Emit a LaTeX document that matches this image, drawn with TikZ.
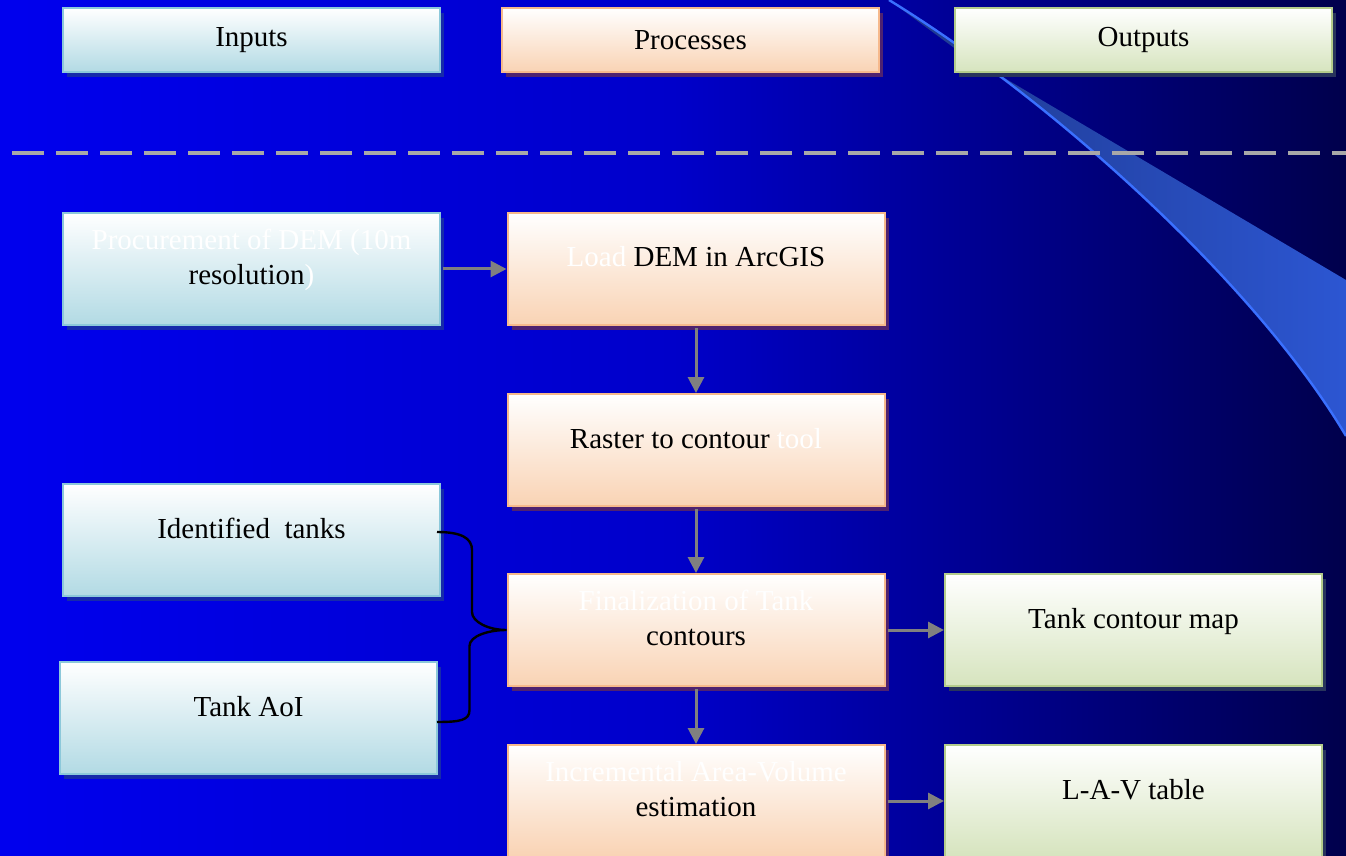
\documentclass[tikz,border=0pt]{standalone}
\usepackage{fontspec}
\setmainfont{Liberation Serif}
\usepackage{tikz}
\usetikzlibrary{arrows.meta,positioning,calc,shadows}

\definecolor{bgleft}{RGB}{0,0,238}
\definecolor{bgmid}{RGB}{0,0,202}
\definecolor{bgright}{RGB}{0,0,76}
\definecolor{inbot}{RGB}{178,218,228}
\definecolor{inedge}{RGB}{140,200,218}
\definecolor{inshadow}{RGB}{22,42,170}
\definecolor{procbot}{RGB}{249,211,180}
\definecolor{procedge}{RGB}{246,185,140}
\definecolor{procshadow}{RGB}{78,34,112}
\definecolor{outbot}{RGB}{214,228,190}
\definecolor{outedge}{RGB}{180,204,140}
\definecolor{outshadow}{RGB}{40,52,92}
\definecolor{flowgray}{RGB}{128,128,128}
\definecolor{dashgray}{RGB}{168,168,168}
\definecolor{swooshdark}{RGB}{30,56,140}
\definecolor{swooshlight}{RGB}{44,86,210}
\definecolor{swooshline}{RGB}{58,112,255}

\newcommand{\lifted}[1]{\raisebox{4.5pt}[\height][\depth]{\begin{tabular}{@{}c@{}}#1\end{tabular}}}
\newcommand{\hid}[1]{\textcolor{white}{#1}}

\begin{document}
\begin{tikzpicture}[x=0.5pt,y=0.5pt,
  font=\fontsize{14.5}{17.5}\selectfont,
  panel/.style={draw,line width=1pt,minimum width=188.5pt,minimum height=56pt,inner sep=0pt,top color=white},
  headbox/.style={minimum height=32pt},
  inbox/.style={panel,draw=inedge,bottom color=inbot,
    drop shadow={shadow xshift=2pt,shadow yshift=-2.5pt,fill=inshadow,opacity=1}},
  procbox/.style={panel,draw=procedge,bottom color=procbot,
    drop shadow={shadow xshift=2pt,shadow yshift=-2.5pt,fill=procshadow,opacity=1}},
  outbox/.style={panel,draw=outedge,bottom color=outbot,
    drop shadow={shadow xshift=2pt,shadow yshift=-2.5pt,fill=outshadow,opacity=1}},
  flow/.style={draw=flowgray,line width=1.5pt,-{Triangle[length=8pt,width=8pt]},shorten <=1pt},
  divider/.style={draw=dashgray,line width=2pt,dash pattern=on 16pt off 6pt},
  brace/.style={draw=black,line width=1.2pt}]
  \useasboundingbox (0,0) rectangle (1346,-856); % page size
  \shade[left color=bgleft,right color=bgright,middle color=bgmid] (0,0) rectangle (1346,-856); % blue background
  \clip (0,0) rectangle (1346,-856);
  \shade[left color=swooshdark,right color=swooshlight]
    (957,-50) -- (1346,-280) -- (1346,-436) .. controls (1260,-290) and (1060,-105) .. (889,0) -- cycle; % swoosh band
  \draw[swooshline,line width=1.2pt] (889,0) .. controls (1060,-105) and (1260,-290) .. (1346,-436); % swoosh edge
  \draw[divider] (12,-153) -- (1346,-153); % header / body divider

  \node[inbox,headbox] (inhead) at (251.5,-40) {Inputs};
  \node[procbox,headbox] (prochead) at (690.5,-40) {Processes};
  \node[outbox,headbox] (outhead) at (1143.5,-40) {Outputs};

  \node[inbox] (dem) at (251.5,-269) {\lifted{\hid{Procurement of DEM (10m}\\resolution\hid{)}}};
  \node[inbox] (ident) at (251.5,-540) {\lifted{Identified~ tanks}};
  \node[inbox] (aoi) at (248.5,-718) {\lifted{Tank AoI}};
  \node[procbox] (load) at (696,-269) {\lifted{\hid{Load} DEM in ArcGIS}};
  \node[procbox] (raster) at (696,-450) {\lifted{Raster to contour \hid{tool}}};
  \node[procbox] (final) at (696,-630) {\lifted{\hid{Finalization of Tank}\\contours}};
  \node[procbox] (incr) at (696,-801) {\lifted{\hid{Incremental Area-Volume}\\estimation}};
  \node[outbox] (tmap) at (1133.5,-630) {\lifted{Tank contour map}};
  \node[outbox] (lav) at (1133.5,-801) {\lifted{L-A-V table}};

  \draw[flow] (dem) -- (load);
  \draw[flow] (load) -- (raster);
  \draw[flow] (raster) -- (final);
  \draw[flow] (final) -- (incr);
  \draw[flow] (final) -- (tmap);
  \draw[flow] (incr) -- (lav);

  \coordinate (bt) at ($(ident.east)+(-4,8)$); % brace ends
  \coordinate (bb) at ($(aoi.east)+(-1,-4)$);
  \draw[brace] (bt) .. controls +(24,0) and +(0,12) .. ++(35,-18) -- ++(0,-62)
    .. controls +(0,-10) and +(-18,0) .. (final.west)
    .. controls +(-18,0) and +(0,10) .. ++(-37,-16) -- ++(0,-64)
    .. controls +(0,-10) and +(24,0) .. (bb); % inputs joined to finalization
\end{tikzpicture}
\end{document}
